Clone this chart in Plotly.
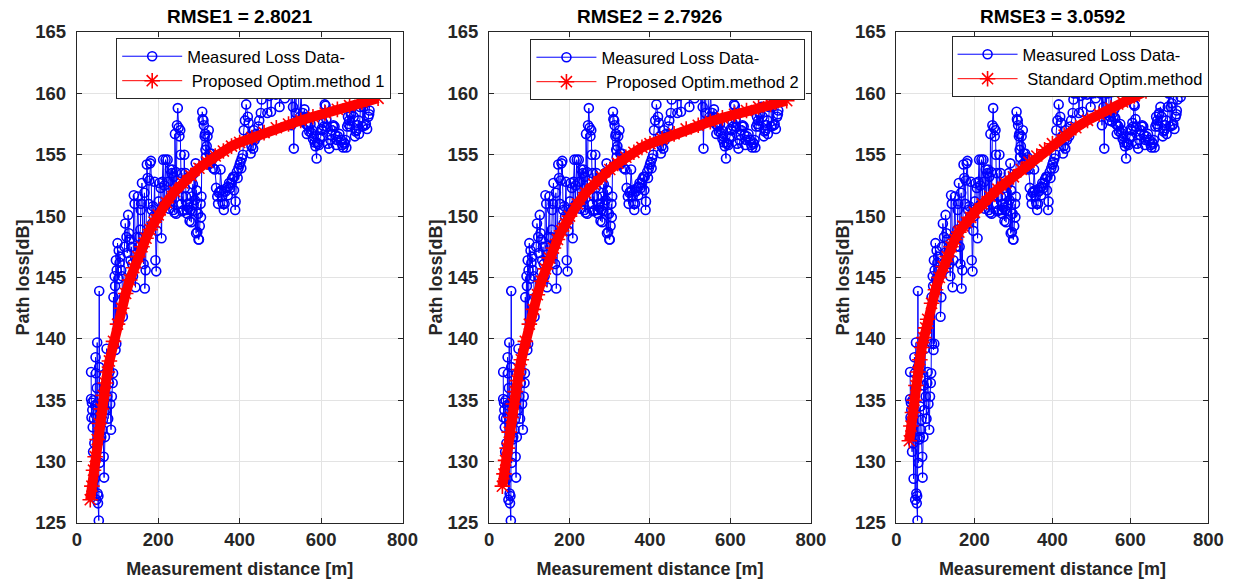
import plotly.graph_objects as go

# ---------------- data ----------------
distance_m = [35, 35, 36, 37, 38, 39, 40, 41, 42, 43, 44, 45, 46, 47, 48, 49, 50, 51, 52, 53, 54, 55, 55, 56, 58, 60,
              61, 63, 64, 66, 67, 69, 70, 71, 73, 75, 77, 79, 80, 82, 84, 86, 88, 89, 90, 91, 93, 94, 95, 96, 97, 98,
              100, 102, 103, 105, 107, 109, 111, 113, 115, 117, 119, 122, 124, 126, 128, 130, 132, 134, 136, 138,
              140, 142, 144, 146, 148, 150, 152, 154, 156, 157, 158, 160, 162, 164, 166, 167, 169, 172, 174, 176,
              178, 180, 182, 184, 185, 187, 189, 191, 193, 195, 197, 199, 201, 203, 206, 208, 210, 212, 214, 215,
              218, 220, 223, 225, 227, 229, 231, 233, 235, 237, 238, 240, 241, 243, 244, 246, 248, 250, 252, 254,
              255, 257, 258, 259, 260, 262, 264, 265, 267, 268, 270, 271, 273, 275, 277, 279, 281, 282, 284, 285,
              287, 288, 290, 292, 293, 294, 296, 298, 299, 300, 302, 304, 305, 306, 308, 309, 311, 312, 314, 315,
              316, 317, 319, 321, 323, 324, 326, 328, 330, 332, 335, 336, 339, 342, 345, 347, 349, 351, 353, 355,
              357, 359, 361, 363, 365, 368, 371, 372, 374, 377, 379, 381, 384, 386, 387, 389, 390, 393, 395, 397,
              400, 402, 404, 405, 408, 410, 413, 416, 420, 422, 425, 427, 429, 431, 433, 435, 437, 440, 443, 446,
              448, 452, 454, 456, 458, 460, 462, 464, 466, 468, 470, 473, 475, 477, 479, 481, 483, 485, 487, 489,
              491, 494, 496, 498, 500, 502, 504, 506, 508, 511, 513, 515, 517, 519, 521, 523, 525, 527, 529, 531,
              533, 535, 538, 540, 541, 543, 544, 546, 548, 551, 553, 555, 557, 559, 561, 563, 565, 567, 569, 571,
              574, 576, 578, 580, 582, 584, 586, 589, 590, 592, 595, 597, 599, 601, 603, 605, 607, 609, 611, 613,
              614, 617, 620, 623, 625, 627, 629, 630, 633, 635, 637, 639, 641, 645, 649, 652, 654, 656, 658, 660,
              662, 664, 666, 667, 669, 671, 673, 674, 677, 680, 683, 685, 687, 690, 692, 693, 696, 698, 700, 702,
              704, 706, 708, 710, 713, 716, 718, 719, 721, 723, 725, 727, 729, 731, 734, 736, 738]

measured_loss_db = [137.3, 135.1, 133.6, 134.8, 134.2, 132.8, 130.8, 135.0, 133.5, 131.5, 128.6, 134.6, 138.5, 137.2,
                    126.9, 136.0, 139.7, 127.4, 126.6, 127.2, 125.2, 143.9, 137.7, 129.9, 131.8, 132.0, 134.5, 132.6,
                    133.4, 130.4, 128.7, 132.0, 136.2, 134.2, 139.2, 135.3, 133.5, 136.4, 137.3, 134.7, 132.6, 135.3,
                    136.4, 137.2, 143.4, 139.6, 145.1, 144.3, 139.1, 146.4, 139.6, 145.6, 147.8, 144.9, 147.2, 146.2,
                    146.7, 145.6, 145.1, 141.8, 143.4, 147.5, 149.4, 148.3, 147.0, 150.1, 148.6, 148.1, 146.4, 147.5,
                    146.1, 145.1, 151.7, 151.0, 144.2, 146.4, 148.3, 151.6, 147.5, 148.3, 148.9, 150.5, 151.0, 152.7,
                    147.5, 146.1, 151.9, 144.1, 145.6, 154.2, 153.1, 151.0, 152.9, 154.3, 154.5, 150.5, 149.4, 150.8,
                    150.0, 152.8, 146.4, 145.5, 148.8, 150.0, 151.2, 152.7, 152.3, 148.2, 152.8, 154.6, 150.9, 152.5,
                    154.6, 151.0, 154.6, 152.8, 150.6, 153.8, 151.2, 153.5, 153.8, 150.5, 153.2, 150.3, 156.7, 153.6,
                    150.2, 157.4, 158.8, 157.2, 156.5, 157.0, 155.0, 151.0, 153.5, 150.4, 151.6, 150.5, 155.0, 152.3,
                    153.5, 151.6, 150.5, 150.2, 151.0, 150.7, 149.6, 150.5, 149.5, 151.6, 150.4, 152.6, 150.9, 153.5,
                    151.3, 154.3, 148.6, 152.1, 148.7, 150.2, 148.1, 148.1, 149.2, 151.0, 149.9, 151.6, 158.5, 157.9,
                    157.8, 157.4, 156.5, 156.7, 155.4, 154.8, 155.7, 156.5, 154.2, 157.0, 155.1, 154.3, 155.1, 154.6,
                    153.9, 154.8, 153.8, 152.3, 151.6, 151.0, 151.9, 152.0, 153.8, 152.1, 151.6, 151.0, 150.5, 151.0,
                    152.0, 152.3, 151.7, 152.4, 152.7, 152.3, 152.7, 153.0, 153.2, 152.1, 153.2, 150.5, 151.2, 153.6,
                    153.1, 153.9, 154.2, 154.4, 153.9, 154.7, 155.0, 157.0, 157.8, 159.1, 158.1, 157.6, 156.5, 155.1,
                    155.7, 156.2, 155.5, 157.0, 156.2, 156.7, 156.5, 157.3, 157.8, 158.4, 159.5, 160.0, 161.2, 160.3,
                    162.0, 160.1, 161.5, 158.4, 160.4, 159.8, 162.6, 158.5, 160.8, 160.0, 161.9, 160.3, 161.0, 159.9,
                    162.4, 160.1, 161.3, 158.9, 160.6, 160.0, 162.1, 160.3, 161.2, 159.6, 160.9, 160.1, 162.5, 160.3,
                    161.4, 160.0, 161.8, 157.4, 160.2, 158.9, 155.5, 160.3, 158.4, 161.0, 160.0, 162.2, 160.4, 157.8,
                    158.1, 160.1, 157.7, 158.4, 158.1, 158.7, 158.0, 157.5, 156.7, 157.4, 157.3, 156.9, 157.5, 156.8,
                    157.0, 156.3, 156.5, 156.0, 155.7, 154.7, 156.0, 155.9, 155.8, 156.3, 156.5, 157.1, 157.0, 157.6,
                    157.3, 159.1, 159.0, 157.9, 157.3, 155.9, 155.5, 156.2, 156.6, 157.0, 157.3, 157.4, 157.3, 156.6,
                    155.8, 156.2, 156.5, 156.7, 156.2, 155.8, 155.6, 156.0, 155.9, 156.2, 155.6, 157.3, 158.1, 157.5,
                    157.8, 157.3, 158.3, 158.4, 158.9, 158.1, 156.5, 156.9, 157.0, 157.4, 157.8, 156.7, 158.9, 160.0,
                    160.6, 157.3, 158.9, 159.2, 157.4, 157.5, 157.1, 158.1, 158.3, 158.6, 159.5, 160.8, 160.3, 161.5,
                    159.7, 160.9, 160.1, 160.3, 161.0]

fit_distance_m = [33, 37, 41, 45, 50, 55, 60, 65, 70, 75, 80, 90, 100, 110, 120, 130, 140, 150, 160, 170, 180, 190,
                  200, 220, 240, 260, 280, 300, 320, 340, 360, 380, 400, 430, 460, 490, 520, 550, 580, 610, 640, 670,
                  700, 740]

fit_method1_db = [126.9, 128.0, 129.3, 130.4, 131.8, 133.1, 134.3, 135.4, 136.4, 137.3, 138.2, 139.8, 141.2, 142.5,
                  143.7, 144.8, 145.8, 146.7, 147.5, 148.2, 148.9, 149.5, 150.1, 151.1, 152.0, 152.7, 153.3, 153.9,
                  154.4, 154.9, 155.3, 155.7, 156.0, 156.4, 156.8, 157.2, 157.5, 157.8, 158.1, 158.4, 158.7, 159.0,
                  159.3, 159.6]

fit_method2_db = [128.0, 129.0, 130.1, 131.1, 132.4, 133.6, 134.7, 135.7, 136.6, 137.5, 138.3, 139.8, 141.2, 142.4,
                  143.6, 144.7, 145.7, 146.6, 147.4, 148.1, 148.8, 149.4, 150.0, 151.0, 151.9, 152.6, 153.2, 153.8,
                  154.3, 154.8, 155.2, 155.6, 155.9, 156.3, 156.7, 157.1, 157.4, 157.7, 158.0, 158.3, 158.6, 158.9,
                  159.1, 159.4]

fit_standard_db = [131.7, 132.9, 134.0, 135.0, 136.2, 137.3, 138.3, 139.3, 140.1, 140.9, 141.6, 142.9, 144.0, 145.0,
                   145.9, 146.7, 147.5, 148.1, 148.7, 149.2, 149.5, 149.9, 150.3, 151.0, 151.6, 152.2, 152.7, 153.2,
                   153.8, 154.4, 154.9, 155.4, 155.9, 156.6, 157.2, 157.8, 158.3, 158.8, 159.3, 159.8, 160.2, 160.5,
                   160.9, 161.4]

panel_titles = ["RMSE1 = 2.8021", "RMSE2 = 2.7926", "RMSE3 = 3.0592"]
fit_names = ["\u00a0Proposed Optim.method 1", "\u00a0Proposed Optim.method 2", "\u00a0Standard Optim.method"]
measured_name = "Measured Loss Data-"
x_ticks = [0, 200, 400, 600, 800]
y_ticks = [125, 130, 135, 140, 145, 150, 155, 160, 165]

# ---------------- layout ----------------
W, H = 1247, 583
MT, MB = 32, 60
plot_h = H - MT - MB
panels_px = [(73, 404), (492, 819), (906, 1223)]
legend_px = [(113, 38), (534, 39), (962, 36)]   # legend anchor points (left, top)

FONT = "Liberation Sans, Arial, sans-serif"
AX_COL = "#262626"

fig = go.Figure()
fits = [fit_method1_db, fit_method2_db, fit_standard_db]

for i in range(3):
    xa = "x" if i == 0 else f"x{i+1}"
    ya = "y" if i == 0 else f"y{i+1}"
    lg = "legend" if i == 0 else f"legend{i+1}"
    fig.add_trace(go.Scatter(
        x=distance_m, y=measured_loss_db, mode="lines+markers", name=measured_name,
        line=dict(color="#0000ff", width=1),
        marker=dict(symbol="circle-open", size=9, color="#0000ff", line=dict(width=1.6, color="#0000ff")),
        xaxis=xa, yaxis=ya, legend=lg))
    fig.add_trace(go.Scatter(
        x=fit_distance_m, y=fits[i], mode="lines", showlegend=False, hoverinfo="skip",
        line=dict(color="#ff0000", width=10),
        xaxis=xa, yaxis=ya))
    fig.add_trace(go.Scatter(
        x=fit_distance_m, y=fits[i], mode="lines+markers", name=fit_names[i],
        line=dict(color="#ff0000", width=1),
        marker=dict(symbol="asterisk-open", size=13, color="#ff0000", line=dict(width=1.6, color="#ff0000")),
        xaxis=xa, yaxis=ya, legend=lg))

layout = dict(
    width=W, height=H,
    margin=dict(l=0, r=0, t=MT, b=MB, pad=0),
    paper_bgcolor="white", plot_bgcolor="white",
    font=dict(family=FONT, color=AX_COL),
    annotations=[],
)

for i, (x0, x1) in enumerate(panels_px):
    sfx = "" if i == 0 else str(i + 1)
    layout["xaxis" + sfx] = dict(
        domain=[x0 / W, x1 / W], range=[0, 800], tickvals=x_ticks, anchor="y" + sfx,
        showgrid=True, gridcolor="#e3e3e3", gridwidth=1, zeroline=False,
        showline=True, linecolor=AX_COL, linewidth=1, mirror="allticks",
        ticks="inside", ticklen=5, tickcolor=AX_COL,
        tickfont=dict(family=FONT, size=18.5, color=AX_COL, weight="bold"),
        title=dict(text="Measurement distance [m]", standoff=13,
                   font=dict(family=FONT, size=18, color=AX_COL, weight="bold")),
    )
    layout["yaxis" + sfx] = dict(
        domain=[0, 1], range=[125, 165], tickvals=y_ticks, anchor="x" + sfx,
        showgrid=True, gridcolor="#e3e3e3", gridwidth=1, zeroline=False,
        showline=True, linecolor=AX_COL, linewidth=1, mirror="allticks",
        ticks="inside", ticklen=5, tickcolor=AX_COL, ticklabelstandoff=6,
        tickfont=dict(family=FONT, size=18.5, color=AX_COL, weight="bold"),
        title=dict(text="Path loss[dB]", standoff=0,
                   font=dict(family=FONT, size=18, color=AX_COL, weight="bold")),
    )
    lx, ly = legend_px[i]
    layout["legend" + sfx] = dict(
        x=lx / W, xanchor="left", y=1 - (ly - MT) / plot_h, yanchor="top",
        bgcolor="white", bordercolor=AX_COL, borderwidth=1,
        font=dict(family=FONT, size=16.5, color="black"),
        tracegroupgap=0, itemwidth=60,
    )
    layout["annotations"].append(dict(
        text="<b>" + panel_titles[i] + "</b>", xref="paper", yref="paper",
        x=(x0 + x1) / 2 / W, y=1, xanchor="center", yanchor="bottom", yshift=3,
        showarrow=False, font=dict(family=FONT, size=19, color="black"),
    ))

fig.update_layout(**layout)
fig.write_html("out.html", config={"displayModeBar": False, "staticPlot": True},
               post_script="document.body.style.margin='0';document.body.style.overflow='hidden';")
